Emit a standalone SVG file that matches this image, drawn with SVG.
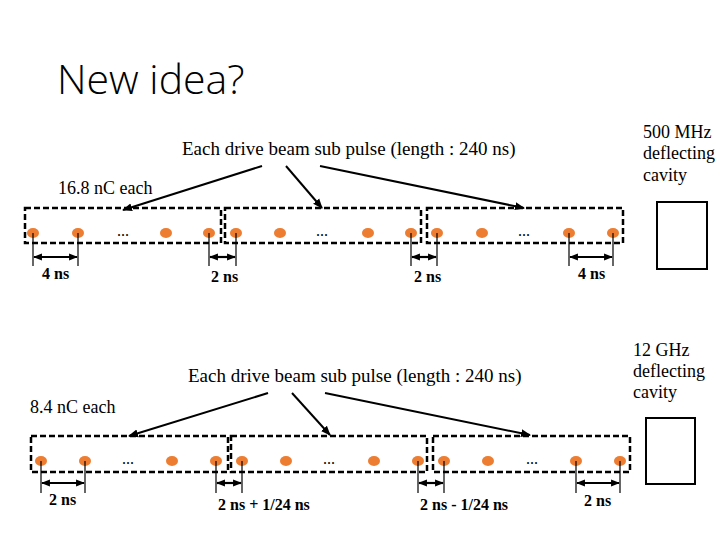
<svg xmlns="http://www.w3.org/2000/svg" width="720" height="540" viewBox="0 0 720 540">
<style>
.t{font-family:"Liberation Serif","DejaVu Serif",serif;font-size:18px;fill:#000}
.big{font-size:19px}
.d{font-size:16px;font-weight:bold}
.title{font-family:"Open Sans","Liberation Sans",sans-serif;font-weight:300;font-size:41px;fill:#000}
.box{fill:none;stroke:#000;stroke-width:2.5;stroke-dasharray:6 3}
.dot{fill:#ED7D31}
.ln{stroke:#000;stroke-width:2;fill:none}
.tick{stroke:#000;stroke-width:1.2}
.dim{stroke:#000;stroke-width:2.2;marker-start:url(#ah);marker-end:url(#ah)}
.cav{fill:#fff;stroke:#000;stroke-width:2}
.el{font-family:"Liberation Serif",serif;font-size:16px;fill:#000}
</style>
<defs>
<marker id="ah" viewBox="0 0 10 10" refX="9" refY="5" markerWidth="4" markerHeight="4" orient="auto-start-reverse" markerUnits="strokeWidth"><path d="M0,1 L10,5 L0,9 z" fill="#000"/></marker>
<marker id="ap" viewBox="0 0 10 10" refX="9" refY="5" markerWidth="5" markerHeight="5" orient="auto" markerUnits="strokeWidth"><path d="M0,1 L10,5 L0,9 z" fill="#000"/></marker>
</defs>
<rect width="720" height="540" fill="#fff"/>
<text class="title" x="57" y="94">New idea?</text>

<g id="top-labels">
<text class="t big" x="182" y="155">Each drive beam sub pulse (length : 240 ns)</text>
<text class="t" x="58" y="194">16.8 nC each</text>
<text class="t" x="643" y="138">500 MHz</text>
<text class="t" x="643" y="159">deflecting</text>
<text class="t" x="643" y="181">cavity</text>
</g>
<g id="cavity-500"><rect class="cav" x="657" y="202" width="50" height="67"/></g>

<g id="top-pulse-1"><rect class="box" x="25" y="208" width="196" height="35"/>
<ellipse class="dot" cx="33" cy="233" rx="6" ry="5"/><ellipse class="dot" cx="78" cy="233" rx="6" ry="5"/><text class="el" x="123" y="236" text-anchor="middle">...</text><ellipse class="dot" cx="166" cy="233" rx="6" ry="5"/><ellipse class="dot" cx="209" cy="233" rx="6" ry="5"/></g>
<g id="top-pulse-2"><rect class="box" x="225" y="208" width="196" height="35"/>
<ellipse class="dot" cx="236" cy="233" rx="6" ry="5"/><ellipse class="dot" cx="280" cy="233" rx="6" ry="5"/><text class="el" x="322" y="236" text-anchor="middle">...</text><ellipse class="dot" cx="368" cy="233" rx="6" ry="5"/><ellipse class="dot" cx="411" cy="233" rx="6" ry="5"/></g>
<g id="top-pulse-3"><rect class="box" x="427" y="208" width="196" height="35"/>
<ellipse class="dot" cx="437" cy="233" rx="6" ry="5"/><ellipse class="dot" cx="482" cy="233" rx="6" ry="5"/><text class="el" x="524" y="236" text-anchor="middle">...</text><ellipse class="dot" cx="569" cy="233" rx="6" ry="5"/><ellipse class="dot" cx="613" cy="233" rx="6" ry="5"/></g>

<g id="bottom-labels">
<text class="t big" x="188" y="382">Each drive beam sub pulse (length : 240 ns)</text>
<text class="t" x="30" y="413">8.4 nC each</text>
<text class="t" x="633" y="356">12 GHz</text>
<text class="t" x="633" y="377">deflecting</text>
<text class="t" x="633" y="398">cavity</text>
</g>
<g id="cavity-12"><rect class="cav" x="646" y="418" width="49" height="66"/></g>

<g id="bottom-pulse-1"><rect class="box" x="31" y="436" width="197" height="36"/>
<ellipse class="dot" cx="41" cy="461" rx="6" ry="5"/><ellipse class="dot" cx="85" cy="461" rx="6" ry="5"/><text class="el" x="128" y="464" text-anchor="middle">...</text><ellipse class="dot" cx="172" cy="461" rx="6" ry="5"/><ellipse class="dot" cx="216" cy="461" rx="6" ry="5"/></g>
<g id="bottom-pulse-2"><rect class="box" x="231" y="436" width="196" height="36"/>
<ellipse class="dot" cx="242" cy="461" rx="6" ry="5"/><ellipse class="dot" cx="286" cy="461" rx="6" ry="5"/><text class="el" x="329" y="464" text-anchor="middle">...</text><ellipse class="dot" cx="374" cy="461" rx="6" ry="5"/><ellipse class="dot" cx="418" cy="461" rx="6" ry="5"/></g>
<g id="bottom-pulse-3"><rect class="box" x="433" y="436" width="197" height="36"/>
<ellipse class="dot" cx="444" cy="461" rx="6" ry="5"/><ellipse class="dot" cx="488" cy="461" rx="6" ry="5"/><text class="el" x="532" y="464" text-anchor="middle">...</text><ellipse class="dot" cx="576" cy="461" rx="6" ry="5"/><ellipse class="dot" cx="620" cy="461" rx="6" ry="5"/></g>

<g id="connectors">
<line class="ln" x1="262" y1="166" x2="123" y2="210" marker-end="url(#ap)"/>
<line class="ln" x1="286" y1="166" x2="322" y2="208" marker-end="url(#ap)"/>
<line class="ln" x1="320" y1="166" x2="524" y2="208" marker-end="url(#ap)"/>
<line class="ln" x1="268" y1="393" x2="129" y2="436" marker-end="url(#ap)"/>
<line class="ln" x1="292" y1="393" x2="330" y2="435" marker-end="url(#ap)"/>
<line class="ln" x1="325" y1="393" x2="530" y2="435" marker-end="url(#ap)"/>

<line class="tick" x1="33" y1="233" x2="33" y2="266"/><line class="tick" x1="78" y1="233" x2="78" y2="266"/>
<line class="dim" x1="34" y1="257" x2="77" y2="257"/>
<line class="tick" x1="209" y1="233" x2="209" y2="266"/><line class="tick" x1="236" y1="233" x2="236" y2="266"/>
<line class="dim" x1="210" y1="257" x2="235" y2="257"/>
<line class="tick" x1="411" y1="233" x2="411" y2="266"/><line class="tick" x1="437" y1="233" x2="437" y2="266"/>
<line class="dim" x1="412" y1="257" x2="436" y2="257"/>
<line class="tick" x1="569" y1="233" x2="569" y2="266"/><line class="tick" x1="613" y1="233" x2="613" y2="266"/>
<line class="dim" x1="570" y1="257" x2="612" y2="257"/>

<line class="tick" x1="41" y1="461" x2="41" y2="493"/><line class="tick" x1="85" y1="461" x2="85" y2="493"/>
<line class="dim" x1="42" y1="483" x2="84" y2="483"/>
<line class="tick" x1="216" y1="461" x2="216" y2="493"/><line class="tick" x1="242" y1="461" x2="242" y2="493"/>
<line class="dim" x1="217" y1="483" x2="241" y2="483"/>
<line class="tick" x1="418" y1="461" x2="418" y2="493"/><line class="tick" x1="444" y1="461" x2="444" y2="493"/>
<line class="dim" x1="419" y1="483" x2="443" y2="483"/>
<line class="tick" x1="576" y1="461" x2="576" y2="493"/><line class="tick" x1="620" y1="461" x2="620" y2="493"/>
<line class="dim" x1="577" y1="483" x2="619" y2="483"/>
</g>

<g id="dim-labels">
<text class="t d" x="42" y="279">4 ns</text>
<text class="t d" x="211" y="282">2 ns</text>
<text class="t d" x="414" y="282">2 ns</text>
<text class="t d" x="578" y="279">4 ns</text>
<text class="t d" x="49" y="505">2 ns</text>
<text class="t d" x="218" y="510">2 ns + 1/24 ns</text>
<text class="t d" x="420" y="510">2 ns - 1/24 ns</text>
<text class="t d" x="584" y="506">2 ns</text>
</g>
</svg>
